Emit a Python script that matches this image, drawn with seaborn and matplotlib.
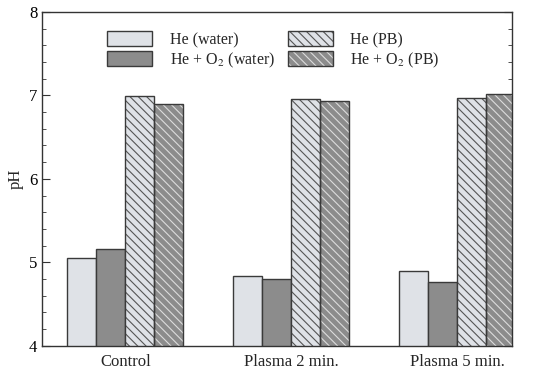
import matplotlib
matplotlib.use("Agg")
import matplotlib.pyplot as plt
import seaborn as sns
import pandas as pd
from matplotlib.patches import Patch, Rectangle
from matplotlib.ticker import MultipleLocator

categories = ["Control", "Plasma 2 min.", "Plasma 5 min."]
series = ["He (water)", "He + O$_2$ (water)", "He (PB)", "He + O$_2$ (PB)"]
he_water = [5.05, 4.84, 4.90]
heo2_water = [5.16, 4.80, 4.76]
he_pb = [6.99, 6.96, 6.97]
heo2_pb = [6.90, 6.93, 7.02]

rows = []
for s, vals in zip(series, [he_water, heo2_water, he_pb, heo2_pb]):
    for c, v in zip(categories, vals):
        rows.append({"cat": c, "series": s, "pH": v})
df = pd.DataFrame(rows)

sns.set_style("ticks")
plt.rcParams["font.family"] = ["Liberation Serif", "DejaVu Serif"]
plt.rcParams["mathtext.fontset"] = "stix"
plt.rcParams["hatch.linewidth"] = 0.8

light = "#dfe2e7"
dark = "#8c8c8c"
edge = "#3a3a3a"
palette = {series[0]: light, series[1]: dark, series[2]: light, series[3]: dark}
hatch_cols = [None, None, "#555555", "#dcdcdc"]
hatches = [None, None, "\\\\\\\\", "\\\\\\\\"]

fig, ax = plt.subplots(figsize=(5.5, 3.73), dpi=100)
fig.subplots_adjust(left=0.077, right=0.931, top=0.968, bottom=0.073)
sns.barplot(data=df, x="cat", y="pH", hue="series", hue_order=series,
            palette=palette, width=0.7, edgecolor=edge, linewidth=1.0,
            saturation=1, ax=ax, legend=False)

for cont, h, hc in zip(ax.containers, hatches, hatch_cols):
    for bar in cont:
        if h:
            bar.set_hatch(h)
            bar.set_edgecolor(hc)
            bar.set_linewidth(0)
            outline = Rectangle(bar.get_xy(), bar.get_width(), bar.get_height(),
                                fill=False, edgecolor=edge, linewidth=1.0, zorder=bar.get_zorder() + 0.1)
            ax.add_patch(outline)

ax.set_ylim(4, 8)
ax.set_xlim(-0.5, 2.33)
ax.yaxis.set_major_locator(MultipleLocator(1))
ax.yaxis.set_minor_locator(MultipleLocator(0.2))
ax.tick_params(axis="y", which="both", direction="in", left=True, right=True,
               labelsize=12, colors="#333333", labelcolor="black")
ax.tick_params(axis="y", which="major", length=6)
ax.tick_params(axis="y", which="minor", length=3)
ax.tick_params(axis="x", length=0, labelsize=12, pad=6)
ax.set_xlabel("")
ax.set_ylabel("pH", fontsize=12)
for sp in ax.spines.values():
    sp.set_visible(True)
    sp.set_color("#333333")
    sp.set_linewidth(1.0)

handles = []
for s, h, hc in zip(series, hatches, hatch_cols):
    if h:
        p1 = Patch(facecolor=palette[s], edgecolor=hc, linewidth=0, hatch=h)
        p2 = Patch(fill=False, edgecolor=edge, linewidth=1.0)
        handles.append((p1, p2))
    else:
        handles.append(Patch(facecolor=palette[s], edgecolor=edge, linewidth=1.0))
ax.legend(handles=handles, labels=series, ncol=2, loc="upper center",
          bbox_to_anchor=(0.492, 0.985),
          frameon=False, fontsize=11.5, handlelength=2.8, handleheight=1.05,
          columnspacing=0.8, labelspacing=0.15, handletextpad=1.1)

fig.savefig("out.png", dpi=100)
